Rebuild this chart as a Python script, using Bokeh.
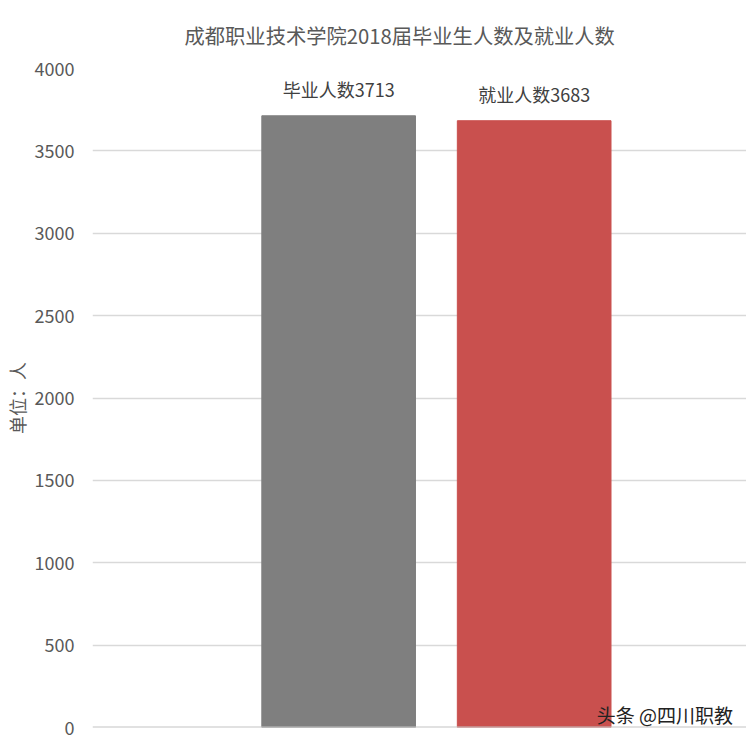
from bokeh.plotting import figure
from bokeh.models import ColumnDataSource, FixedTicker, Range1d, Label
from bokeh.core.properties import value
from bokeh.embed import file_html
from bokeh.resources import INLINE

# data
names = ["毕业人数", "就业人数"]
counts = [3713, 3683]
colors = ["#7f7f7f", "#c9504e"]
positions = [1, 2]
y_ticks = [0, 500, 1000, 1500, 2000, 2500, 3000, 3500, 4000]
title = "成都职业技术学院2018届毕业生人数及就业人数"

FONT = "Noto Sans CJK SC"
GREY = "#595959"

src = ColumnDataSource(data=dict(
    x=positions,
    top=counts,
    color=colors,
    label=["{}{}".format(n, c) for n, c in zip(names, counts)],
))

p = figure(width=746, height=738, output_backend="svg", toolbar_location=None,
           x_range=Range1d(-0.259, 3.086), y_range=Range1d(0, 4000),
           min_border_left=82, min_border_right=0, min_border_top=68,
           min_border_bottom=11, outline_line_color=None)

p.title.text = title
p.title.align = "left"
p.title.offset = 92
p.title.vertical_align = "middle"
p.title.standoff = 35
p.title.text_font = FONT
p.title.text_font_size = "20.3px"
p.title.text_font_style = "normal"
p.title.text_color = GREY

p.vbar(x="x", top="top", width=0.786, color="color", source=src)
p.hspan(y=[0], line_color="#c4c4c4", line_width=2)
p.text(x="x", y="top", text="label", source=src, text_align="center",
       text_baseline="bottom", y_offset=-14, text_font=value(FONT),
       text_font_size="18px", text_color="#404040")

p.xaxis.visible = False
p.xgrid.grid_line_color = None
p.ygrid.ticker = FixedTicker(ticks=y_ticks[1:])
p.ygrid.grid_line_color = "#d9d9d9"
p.ygrid.grid_line_width = 1.6

p.yaxis.ticker = FixedTicker(ticks=y_ticks)
p.yaxis.axis_line_color = None
p.yaxis.major_tick_line_color = None
p.yaxis.minor_tick_line_color = None
p.yaxis.major_label_standoff = 12
p.yaxis.major_label_text_font = FONT
p.yaxis.major_label_text_font_size = "18px"
p.yaxis.major_label_text_color = GREY
p.yaxis.axis_label = "单位：人"
p.yaxis.axis_label_standoff = 2
p.yaxis.axis_label_text_font = FONT
p.yaxis.axis_label_text_font_size = "18px"
p.yaxis.axis_label_text_font_style = "normal"
p.yaxis.axis_label_text_color = GREY

# watermark
p.add_layout(Label(x=2.32, y=80, text="头条 @四川职教", text_font=FONT,
                   text_font_size="19px", text_color="#222222",
                   text_baseline="middle"))

open("out.html", "w").write(file_html(p, INLINE))
